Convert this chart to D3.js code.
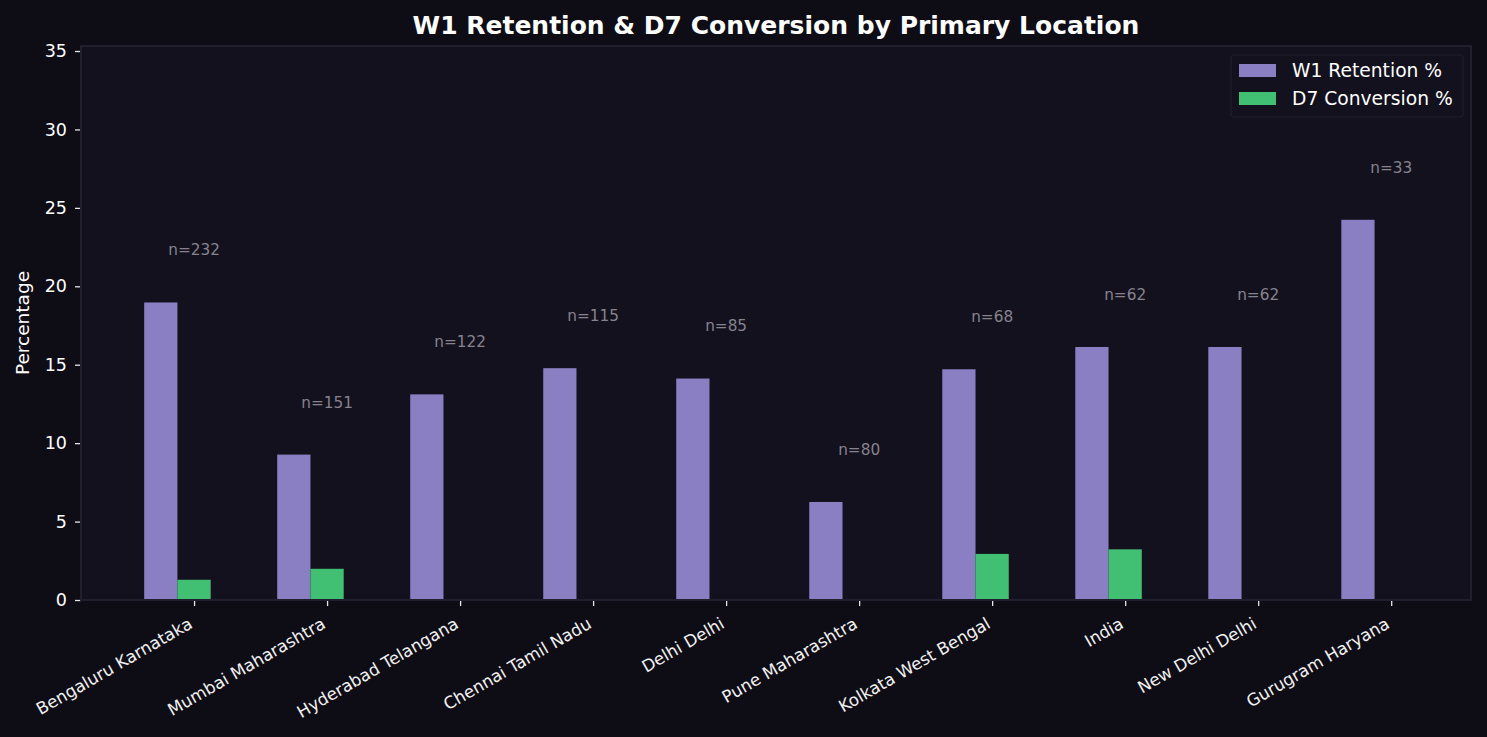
<!DOCTYPE html>
<html>
<head>
<meta charset="utf-8">
<script src="https://cdn.jsdelivr.net/npm/d3@7"></script>
<style>
  html, body { margin: 0; padding: 0; background: #0e0c15; overflow: hidden; }
  svg { display: block; font-family: "DejaVu Sans", sans-serif; }
</style>
</head>
<body>
<div id="chart"></div>
<script>
// data
const locations = ['Bengaluru Karnataka', 'Mumbai Maharashtra', 'Hyderabad Telangana', 'Chennai Tamil Nadu',
    'Delhi Delhi', 'Pune Maharashtra', 'Kolkata West Bengal', 'India', 'New Delhi Delhi', 'Gurugram Haryana'];
const w1Retention = [18.97, 9.27, 13.11, 14.78, 14.12, 6.25, 14.71, 16.13, 16.13, 24.24];
const d7Conversion = [1.29, 1.99, 0, 0, 0, 0, 2.94, 3.23, 0, 0];
const sampleSizes = [232, 151, 122, 115, 85, 80, 68, 62, 62, 33];
const yTicks = [0, 5, 10, 15, 20, 25, 30, 35];

const seriesNames = ['W1 Retention %', 'D7 Conversion %'];
const seriesColors = ['#8a7fc3', '#41bf72'];

const width = 1487, height = 737;
const margin = { top: 46, right: 16, bottom: 137, left: 81 };
const innerWidth = width - margin.left - margin.right;
const innerHeight = height - margin.top - margin.bottom;

const svg = d3.select('#chart').append('svg')
    .attr('width', width)
    .attr('height', height);

svg.append('rect')
    .attr('width', width).attr('height', height)
    .attr('fill', '#0e0c15');

const g = svg.append('g')
    .attr('transform', `translate(${margin.left},${margin.top})`);

// axes background
g.append('rect')
    .attr('width', innerWidth).attr('height', innerHeight)
    .attr('fill', '#13111d');

// bars of width 0.25: retention on [i-0.375, i-0.125], conversion on [i-0.125, i+0.125]
const barW = 0.25;
const xScale = d3.scaleLinear()
    .domain([-0.85, locations.length - 1 + 0.6])
    .range([0, innerWidth]);
const yScale = d3.scaleLinear()
    .domain([0, 35.32])
    .range([innerHeight, 0]);

const rows = locations.map((loc, i) => ({
    loc, i, values: [w1Retention[i], d7Conversion[i]], n: sampleSizes[i]
}));

// bars
seriesNames.forEach((name, s) => {
    g.selectAll(`.bar-${s}`)
        .data(rows)
        .enter()
        .append('rect')
        .attr('class', `bar-${s}`)
        .attr('x', d => xScale(d.i - 0.375 + s * barW))
        .attr('width', xScale(barW) - xScale(0))
        .attr('y', d => yScale(d.values[s]))
        .attr('height', d => yScale(0) - yScale(d.values[s]))
        .attr('fill', seriesColors[s]);
});

// n labels above the retention bar
g.selectAll('.n-label')
    .data(rows)
    .enter()
    .append('text')
    .attr('class', 'n-label')
    .attr('x', d => xScale(d.i))
    .attr('y', d => yScale(d.values[0] + 3))
    .attr('text-anchor', 'middle')
    .attr('fill', '#86838f')
    .attr('font-size', 15.3)
    .text(d => `n=${d.n}`);

// y axis
const yAxis = d3.axisLeft(yScale)
    .tickValues(yTicks)
    .tickSize(6)
    .tickPadding(8);
const yAxisG = g.append('g').call(yAxis);
yAxisG.select('.domain').remove();
yAxisG.selectAll('line').attr('stroke', '#e6e6e6').attr('stroke-width', 1.3);
yAxisG.selectAll('text')
    .attr('fill', '#ffffff')
    .attr('font-size', 17.5)
    .attr('font-family', '"DejaVu Sans", sans-serif');

// x axis
const xAxis = d3.axisBottom(xScale)
    .tickValues(d3.range(locations.length))
    .tickFormat(i => locations[i])
    .tickSize(6);
const xAxisG = g.append('g')
    .attr('transform', `translate(0,${innerHeight})`)
    .call(xAxis);
xAxisG.select('.domain').remove();
xAxisG.selectAll('line').attr('stroke', '#e6e6e6').attr('stroke-width', 1.3);
xAxisG.selectAll('text')
    .attr('fill', '#f0f0f0')
    .attr('font-size', 16.8)
    .attr('font-family', '"DejaVu Sans", sans-serif')
    .attr('text-anchor', 'end')
    .attr('dy', 0)
    .attr('y', 0)
    .attr('x', 0)
    .attr('transform', 'translate(-1,27) rotate(-30)');

// spines
g.append('rect')
    .attr('width', innerWidth).attr('height', innerHeight)
    .attr('fill', 'none')
    .attr('stroke', '#211f2d')
    .attr('stroke-width', 2);

// title
svg.append('text')
    .attr('x', margin.left + innerWidth / 2)
    .attr('y', 34)
    .attr('text-anchor', 'middle')
    .attr('fill', '#ffffff')
    .attr('font-weight', 'bold')
    .attr('font-size', 25)
    .text('W1 Retention & D7 Conversion by Primary Location');

// y label
svg.append('text')
    .attr('transform', `translate(29,${margin.top + innerHeight / 2}) rotate(-90)`)
    .attr('text-anchor', 'middle')
    .attr('fill', '#ffffff')
    .attr('font-size', 18.5)
    .text('Percentage');

// legend
const legend = svg.append('g')
    .attr('transform', 'translate(1231,55)');
legend.append('rect')
    .attr('width', 232).attr('height', 62)
    .attr('rx', 3)
    .attr('fill', '#13111d')
    .attr('stroke', '#211f2d')
    .attr('stroke-width', 1.2);
seriesNames.forEach((name, s) => {
    const row = legend.append('g').attr('transform', `translate(8,${9 + s * 28})`);
    row.append('rect')
        .attr('width', 37).attr('height', 13)
        .attr('fill', seriesColors[s]);
    row.append('text')
        .attr('x', 53).attr('y', 13)
        .attr('fill', '#ffffff')
        .attr('font-size', 18.7)
        .text(name);
});
</script>
</body>
</html>
